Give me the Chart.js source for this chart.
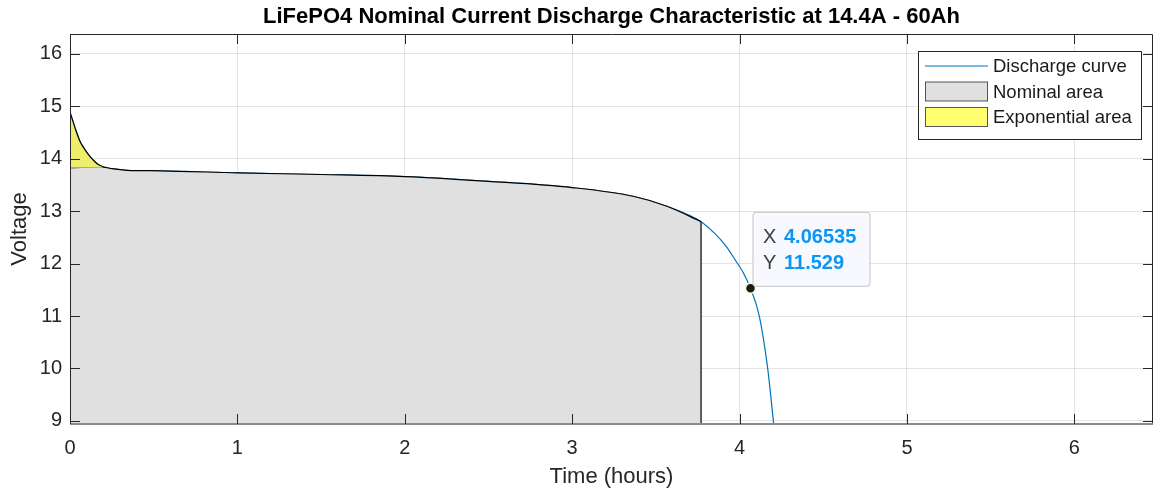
<!DOCTYPE html>
<html>
<head>
<meta charset="utf-8">
<script src="https://cdn.jsdelivr.net/npm/chart.js@4.4.1/dist/chart.umd.min.js"></script>
<style>
  body { margin: 0; background: #fff; }
</style>
</head>
<body>
<canvas id="myChart" width="1154" height="493"></canvas>
<script>
// values
const timeHours = [0, 0.03, 0.06, 0.09, 0.12, 0.16, 0.2, 0.25, 0.34, 0.54, 1.0, 1.5, 2.0, 2.5, 3.0, 3.37, 3.57, 3.77, 3.85, 3.92, 3.98, 4.02, 4.065, 4.118, 4.168, 4.204];
const voltage = [14.89, 14.59, 14.33, 14.17, 14.04, 13.91, 13.84, 13.81, 13.78, 13.77, 13.73, 13.70, 13.66, 13.57, 13.45, 13.28, 13.09, 12.80, 12.58, 12.33, 12.04, 11.84, 11.529, 11.0, 10.0, 8.94];
const xTicks = [0, 1, 2, 3, 4, 5, 6];
const yTicks = [9, 10, 11, 12, 13, 14, 15, 16];
const xRange = [0, 6.47];
const yRange = [8.94, 16.38];
const nominalVoltage = 13.83;
const expEndTime = 0.2;
const nominalEndTime = 3.77;
const tipPoint = { x: 4.06535, y: 11.529 };

const FONT = '"Liberation Sans", Arial, Helvetica, sans-serif';
const AXIS_COLOR = '#262626';
const BLUE = '#0072bd';
const GRAY_FILL = '#e0e0e0';
const YELLOW_FILL = '#eeee6c';

const curve = timeHours.map((t, i) => ({ x: t, y: voltage[i] }));
const expData = curve.filter((p) => p.x <= expEndTime);
const nominalData = [{ x: 0, y: nominalVoltage }].concat(
  curve.filter((p) => p.x >= expEndTime && p.x <= nominalEndTime)
);
const edgeY = voltage[timeHours.indexOf(nominalEndTime)];
const edgeData = [{ x: nominalEndTime, y: edgeY }, { x: nominalEndTime, y: yRange[0] }];

// box, inward ticks, title, legend, data tip
const decorations = {
  id: 'decorations',
  afterDraw(chart) {
    const { ctx, chartArea: a, scales } = chart;
    ctx.save();

    // axes box
    ctx.strokeStyle = AXIS_COLOR;
    ctx.lineWidth = 1;
    ctx.beginPath();
    ctx.moveTo(a.left + 0.5, a.bottom);
    ctx.lineTo(a.left + 0.5, a.top + 0.5);
    ctx.lineTo(a.right - 0.5, a.top + 0.5);
    ctx.lineTo(a.right - 0.5, a.bottom);
    ctx.stroke();
    ctx.strokeStyle = '#8c8c8c';
    ctx.lineWidth = 2;
    ctx.beginPath();
    ctx.moveTo(a.left, a.bottom);
    ctx.lineTo(a.right, a.bottom);
    ctx.stroke();

    // inward ticks
    ctx.strokeStyle = AXIS_COLOR;
    ctx.lineWidth = 1;
    const len = 10;
    xTicks.forEach((v) => {
      const x = Math.round(scales.x.getPixelForValue(v)) + 0.5;
      ctx.beginPath();
      ctx.moveTo(x, a.bottom); ctx.lineTo(x, a.bottom - len);
      ctx.moveTo(x, a.top); ctx.lineTo(x, a.top + len);
      ctx.stroke();
    });
    yTicks.forEach((v) => {
      const y = Math.round(scales.y.getPixelForValue(v)) + 0.5;
      ctx.beginPath();
      ctx.moveTo(a.left, y); ctx.lineTo(a.left + len, y);
      ctx.moveTo(a.right, y); ctx.lineTo(a.right - len, y);
      ctx.stroke();
    });

    // title
    ctx.fillStyle = '#000';
    ctx.font = 'bold 22px ' + FONT;
    ctx.textAlign = 'center';
    ctx.textBaseline = 'middle';
    ctx.fillText('LiFePO4 Nominal Current Discharge Characteristic at 14.4A - 60Ah', (a.left + a.right) / 2, 17);

    // legend
    const lg = { left: 918, top: 51, width: 223, height: 88 };
    ctx.fillStyle = '#fff';
    ctx.fillRect(lg.left, lg.top, lg.width, lg.height);
    ctx.strokeStyle = AXIS_COLOR;
    ctx.strokeRect(lg.left + 0.5, lg.top + 0.5, lg.width, lg.height);
    const rows = chart.data.datasets.filter((d) => d.inLegend);
    rows.forEach((d, i) => {
      const cy = lg.top + 15 + i * 25.5;
      if (d.legendType === 'line') {
        ctx.strokeStyle = d.borderColor;
        ctx.lineWidth = 1.2;
        ctx.beginPath();
        ctx.moveTo(925, cy); ctx.lineTo(988, cy);
        ctx.stroke();
      } else {
        ctx.fillStyle = d.legendFill;
        ctx.fillRect(925, cy - 9.5, 63, 19);
        ctx.strokeStyle = '#555';
        ctx.lineWidth = 1;
        ctx.strokeRect(925.5, cy - 9.5, 62, 19);
      }
      ctx.fillStyle = '#1a1a1a';
      ctx.font = '18.5px ' + FONT;
      ctx.textAlign = 'left';
      ctx.fillText(d.label, 993, cy + 1);
    });

    // data tip box
    const px = scales.x.getPixelForValue(tipPoint.x);
    const py = scales.y.getPixelForValue(tipPoint.y);
    const bx = px + 2.5, by = py - 76, bw = 117, bh = 74;
    ctx.fillStyle = 'rgba(248,249,255,0.95)';
    ctx.strokeStyle = '#c4c4c4';
    ctx.lineWidth = 1;
    ctx.beginPath();
    ctx.roundRect(bx, by, bw, bh, 3);
    ctx.fill();
    ctx.stroke();
    ctx.textAlign = 'left';
    ctx.font = '20px ' + FONT;
    ctx.fillStyle = '#404040';
    ctx.fillText('X', bx + 10, by + 25);
    ctx.fillText('Y', bx + 10, by + 51);
    ctx.font = 'bold 20px ' + FONT;
    ctx.fillStyle = '#0a96f5';
    ctx.fillText(String(tipPoint.x), bx + 31, by + 25);
    ctx.fillText(String(tipPoint.y), bx + 31, by + 51);

    ctx.restore();
  },
};

const ctx = document.getElementById('myChart');

new Chart(ctx, {
  type: 'line',
  data: {
    datasets: [
      {
        label: 'Discharge curve',
        data: curve,
        borderColor: BLUE,
        borderWidth: 1.2,
        pointRadius: 0,
        cubicInterpolationMode: 'monotone',
        fill: false,
        order: 5,
        inLegend: true,
        legendType: 'line',
      },
      {
        label: 'Nominal area',
        data: nominalData,
        borderColor: '#000',
        borderWidth: 1.2,
        backgroundColor: GRAY_FILL,
        pointRadius: 0,
        cubicInterpolationMode: 'monotone',
        fill: 'start',
        order: 4,
        inLegend: true,
        legendFill: GRAY_FILL,
      },
      {
        label: 'Exponential area',
        data: expData,
        borderColor: '#000',
        borderWidth: 1.2,
        backgroundColor: YELLOW_FILL,
        pointRadius: 0,
        cubicInterpolationMode: 'monotone',
        fill: { value: nominalVoltage },
        order: 3,
        inLegend: true,
        legendFill: '#ffff70',
      },
      {
        label: 'nominal edge',
        data: edgeData,
        borderColor: '#000',
        borderWidth: 1.2,
        pointRadius: 0,
        fill: false,
        order: 2,
      },
      {
        label: 'data tip',
        data: [tipPoint],
        showLine: false,
        pointRadius: 5,
        pointBackgroundColor: '#1a1a1a',
        pointBorderColor: '#ffffc8',
        pointBorderWidth: 1.5,
        order: 1,
      },
    ],
  },
  options: {
    responsive: false,
    animation: false,
    devicePixelRatio: 1,
    events: [],
    layout: { autoPadding: false, padding: { top: 34, right: 1, left: 0, bottom: 0 } },
    plugins: {
      legend: { display: false },
      tooltip: { enabled: false },
      title: { display: false },
    },
    scales: {
      x: {
        type: 'linear',
        min: xRange[0],
        max: xRange[1],
        z: 1,
        afterBuildTicks: (scale) => { scale.ticks = xTicks.map((v) => ({ value: v })); },
        afterFit: (scale) => {
          scale.height = 69;
          scale.paddingLeft = 0;
          scale.paddingRight = 0;
        },
        ticks: {
          color: AXIS_COLOR,
          font: { family: FONT, size: 20 },
          padding: 12,
          maxRotation: 0,
        },
        grid: { color: 'rgba(0,0,0,0.1)', drawTicks: false },
        border: { display: false },
        title: {
          display: true,
          text: 'Time (hours)',
          color: AXIS_COLOR,
          font: { family: FONT, size: 22 },
          padding: { top: 0, bottom: 3 },
        },
      },
      y: {
        type: 'linear',
        min: yRange[0],
        max: yRange[1],
        z: 1,
        afterBuildTicks: (scale) => { scale.ticks = yTicks.map((v) => ({ value: v })); },
        afterFit: (scale) => { scale.width = 70; },
        ticks: {
          color: AXIS_COLOR,
          font: { family: FONT, size: 20 },
          padding: 8,
        },
        grid: { color: 'rgba(0,0,0,0.1)', drawTicks: false },
        border: { display: false },
        title: {
          display: true,
          text: 'Voltage',
          color: AXIS_COLOR,
          font: { family: FONT, size: 22 },
          padding: { top: 7, bottom: 0 },
        },
      },
    },
  },
  plugins: [decorations],
});
</script>
</body>
</html>
